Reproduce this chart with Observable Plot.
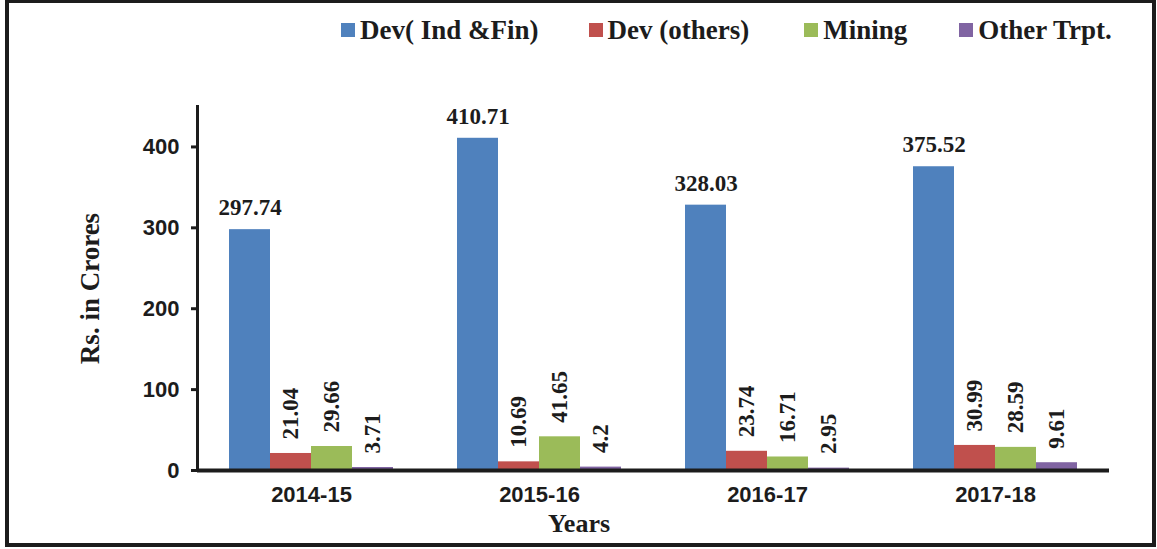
<!DOCTYPE html>
<html>
<head>
<meta charset="utf-8">
<script src="https://cdn.jsdelivr.net/npm/d3@7"></script>
<script src="https://cdn.jsdelivr.net/npm/@observablehq/plot@0.6"></script>
<style>
  html, body { margin: 0; padding: 0; background: #fff; }
  #page { position: relative; width: 1157px; height: 549px; overflow: hidden; background: #fff; }
  #border { position: absolute; left: 5px; top: -1px; width: 1151px; height: 548px; box-sizing: border-box; border: 4px solid #1c1c1c; }
  #legend { position: absolute; left: 0; top: 0; width: 1157px; height: 60px; display: flex; align-items: center; padding-left: 341px; box-sizing: border-box;
    font-family: "Liberation Serif", "Times New Roman", serif; font-weight: bold; font-size: 27px; color: #1c1c1c; white-space: nowrap; }
  #legend .item { display: flex; align-items: center; }
  #legend .sw { width: 14px; height: 14px; margin-right: 5px; }
  #chart { position: absolute; left: 8px; top: 60px; }
  #chart g[aria-label="y-axis label"] text { font-family: "Liberation Serif", "Times New Roman", serif; font-size: 27px; }
  #caption { position: absolute; left: 8px; top: 510px; width: 1142px; text-align: center;
    font-family: "Liberation Serif", "Times New Roman", serif; font-weight: bold; font-size: 26px; color: #1c1c1c; line-height: 28px; }
</style>
</head>
<body>
<div id="page">
  <div id="border"></div>
  <div id="legend"></div>
  <div id="chart"></div>
  <div id="caption">Years</div>
</div>
<script>
const years = ["2014-15", "2015-16", "2016-17", "2017-18"];
const series = ["Dev( Ind &Fin)", "Dev (others)", "Mining", "Other Trpt."];
const devIndFin = [297.74, 410.71, 328.03, 375.52];
const devOthers = [21.04, 10.69, 23.74, 30.99];
const mining = [29.66, 41.65, 16.71, 28.59];
const otherTrpt = [3.71, 4.2, 2.95, 9.61];
const colors = ["#4F81BD", "#C0504D", "#9BBB59", "#8064A2"];
const yTicks = [0, 100, 200, 300, 400];

const seriesValues = [devIndFin, devOthers, mining, otherTrpt];
const data = [];
years.forEach((yr, i) => {
  series.forEach((s, j) => {
    data.push({year: yr, series: s, value: seriesValues[j][i]});
  });
});
const blueData = data.filter(d => d.series === series[0]);
const otherData = data.filter(d => d.series !== series[0]);

// legend
const legend = document.getElementById("legend");
const legendGaps = [50, 55, 52, 0];
series.forEach((s, j) => {
  const item = document.createElement("div");
  item.className = "item";
  item.style.marginRight = legendGaps[j] + "px";
  const sw = document.createElement("div");
  sw.className = "sw";
  sw.style.background = colors[j];
  const t = document.createElement("span");
  t.textContent = s;
  item.appendChild(sw);
  item.appendChild(t);
  legend.appendChild(item);
});

const serif = "Liberation Serif, Times New Roman, serif";
const sans = "Liberation Sans, Arial, sans-serif";

const chart = Plot.plot({
  width: 1142,
  height: 450,
  marginTop: 46,
  marginBottom: 40,
  marginLeft: 188,
  marginRight: 40,
  style: {background: "transparent", overflow: "visible", color: "#1c1c1c"},
  fx: {domain: years, padding: 0, label: null, axis: null},
  x: {domain: series, paddingInner: 0, paddingOuter: 0.75, axis: null},
  y: {domain: [0, 450], axis: null},
  color: {domain: series, range: colors},
  marks: [
    Plot.axisY({ticks: yTicks, tickSize: 6, tickPadding: 12, strokeWidth: 3,
      fontSize: 22, fontWeight: "bold", fontFamily: sans,
      label: "Rs. in Crores", labelAnchor: "center", labelArrow: "none", labelOffset: 118}),
    Plot.axisFx({anchor: "bottom", tickSize: 0, tickPadding: 16, label: null,
      fontSize: 22, fontWeight: "bold", fontFamily: sans}),
    Plot.barY(data, {fx: "year", x: "series", y: "value", fill: "series"}),
    Plot.ruleY([0], {strokeWidth: 4, stroke: "#1c1c1c"}),
    Plot.frame({anchor: "left", facet: "super", strokeWidth: 3, stroke: "#1c1c1c"}),
    Plot.text(blueData, {fx: "year", x: "series", y: "value", text: d => String(d.value),
      dy: -22, fontSize: 23, fontWeight: "bold", fontFamily: serif, fill: "#1c1c1c"}),
    Plot.text(otherData, {fx: "year", x: "series", y: "value", text: d => String(d.value),
      rotate: -90, textAnchor: "start", dy: -14, fontSize: 23, fontWeight: "bold", fontFamily: serif, fill: "#1c1c1c"})
  ]
});
document.getElementById("chart").appendChild(chart);
</script>
</body>
</html>
